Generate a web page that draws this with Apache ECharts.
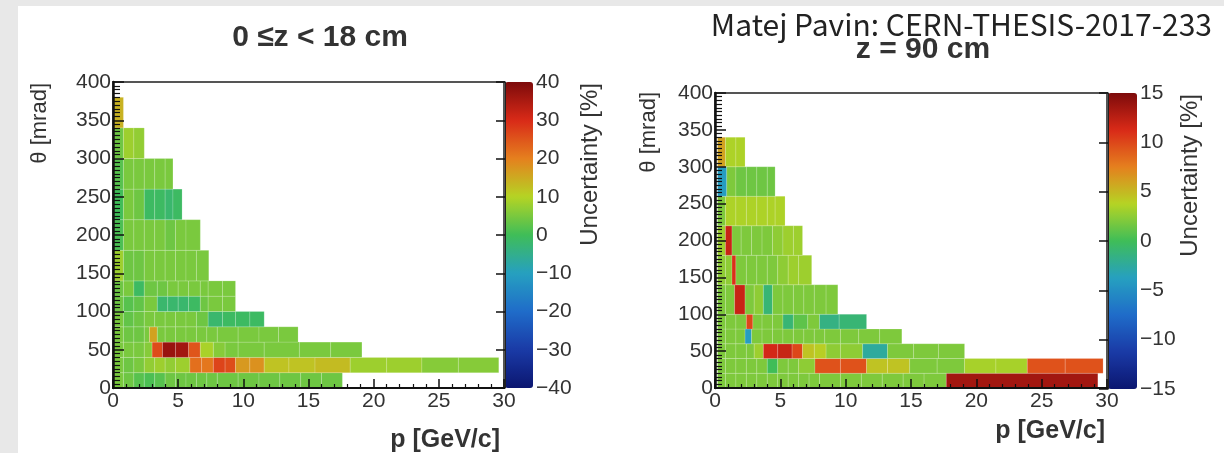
<!DOCTYPE html>
<html><head><meta charset="utf-8">
<script src="https://cdn.jsdelivr.net/npm/echarts/dist/echarts.min.js"></script>
<style>
html,body{margin:0;padding:0;background:#e8e8e8;overflow:hidden;}
#panel{position:absolute;left:18px;top:6px;width:1206px;height:447px;background:#fff;}
#c{position:absolute;left:0;top:0;width:1224px;height:453px;}
</style>
</head><body><div id="panel"></div><div id="c"></div>
<script>
// ---------- data (left panel: 0 <= z < 18 cm) ----------
const thetaRows1 = [[0,20],[20,40],[40,60],[60,80],[80,100],[100,120],[120,140],[140,180],[180,220],[220,260],[260,300],[300,340],[340,380]];
const pEdges1 = [
  [0,0.8,1.6,2.4,3.2,4.0,4.8,5.6,6.4,7.2,8.0,9.6,11.2,12.8,14.4,16.0,17.6],
  [0,0.8,1.6,2.4,3.2,4.0,4.8,5.9,6.8,7.7,8.6,9.4,10.5,11.6,13.5,15.5,18.2,21,23.7,26.5,29.6],
  [0,0.8,1.6,2.4,3.0,3.8,4.8,5.8,6.7,7.7,8.6,9.6,11.6,14.3,16.7,19.1],
  [0,0.8,1.6,2.4,2.8,3.4,4.0,4.8,5.6,6.4,7.2,8.0,9.6,11.2,12.7,14.2],
  [0,0.8,1.6,2.4,3.2,4.0,4.8,5.6,6.4,7.3,8.4,9.4,10.5,11.6],
  [0,0.8,1.6,2.4,3.4,4.2,5.0,5.8,6.7,7.3,8.4,9.4],
  [0,0.8,1.6,2.4,3.4,4.2,5.0,5.8,6.7,7.3,8.4,9.4],
  [0,0.8,1.6,2.4,3.2,4.0,4.8,5.6,6.4,7.35],
  [0,0.8,1.6,2.4,3.2,4.0,4.8,5.6,6.7],
  [0,0.8,1.6,2.4,3.2,4.0,4.6,5.3],
  [0,0.8,1.6,2.4,3.2,4.0,4.6],
  [0,0.8,1.6,2.4],
  [0,0.8]
];
const values1 = [
  [5,4,2,1,2,4,4,4,4,4,4,4,4,4,4,4],
  [5,4,5,7,8,7,8,22,21,27,26,17,18,12,12,13,8,8,6,6],
  [5,5,5,6,26,37,36,25,9,6,5,5,5,5,5],
  [5,4,4,5,16,5,5,5,5,5,5,5,5,5,5],
  [5,3,4,5,5,5,5,5,4,-2,-1,-1,-1],
  [4,2,3,5,-2,-2,-2,-1,4,5,5],
  [4,5,-1,4,4,5,5,5,5,5,5],
  [8,4,4,5,5,5,5,5,5],
  [1,5,5,5,5,4,5,5],
  [0,5,4,-1,-1,-2,-1],
  [2,5,5,5,5,5],
  [4,8,7],
  [14]
];
const colorTicks1 = [-40,-30,-20,-10,0,10,20,30,40];

// ---------- data (right panel: z = 90 cm) ----------
const thetaRows2 = [[0,20],[20,40],[40,60],[60,80],[80,100],[100,140],[140,180],[180,220],[220,260],[260,300],[300,340]];
const pEdges2 = [
  [0.2,0.8,1.6,2.4,3.2,4.0,4.8,5.6,6.4,7.2,8.0,9.6,11.2,12.8,14.4,16.0,17.7,29.3],
  [0.2,0.8,1.6,2.4,3.2,4.0,4.8,5.6,6.4,7.65,9.6,11.6,13.2,14.9,17.0,19.1,21.5,23.9,26.8,29.7],
  [0.2,0.8,1.6,2.4,3.0,3.7,4.8,5.9,6.7,7.6,8.5,9.6,11.3,13.2,15.2,17.1,19.1],
  [0.2,0.8,1.6,2.3,2.8,3.6,4.4,5.2,6.0,6.8,7.6,8.4,9.6,11.0,12.6,14.3],
  [0.2,0.8,1.6,2.4,2.9,3.6,4.4,5.2,6.0,7.1,8.0,9.5,11.6],
  [0.2,0.8,1.5,2.3,3.0,3.7,4.4,5.2,6.0,6.8,7.6,8.5,9.4],
  [0.2,0.8,1.3,1.6,2.4,3.2,4.0,4.8,5.6,6.4,7.4],
  [0.2,0.8,1.3,2.0,2.8,3.6,4.4,5.2,6.0,6.7],
  [0.2,0.8,1.6,2.4,3.2,4.0,4.6,5.36],
  [0.2,0.9,1.6,2.4,3.2,4.0,4.6],
  [0.2,0.8,1.6,2.3]
];
const values2 = [
  [2,2,2,2,2,2,2,2,2,2,2,2,2,2,2,2,13.5],
  [2,2,2,2,2,0,2,2,2.5,9.5,9.5,4.5,4.5,2,2,3.3,3.3,9.5,9.5],
  [2,2,2,2,3,11.5,12,10,4.5,4,2.5,2.5,-2.5,2,2,2],
  [2,2,2,-4,2,2,2,2,2,2,2,2,2,2,2],
  [2,2,2,10,2,2,2,-1,1,2,-1.5,-1],
  [2,2,12,2,2.5,-1,2,2,2,2,2,2],
  [2.5,2.5,11,2,2,2,2,2.5,3,3],
  [3,12,2,2,2,2,2.5,3,3],
  [2,3.5,3.5,3.5,3.5,3.5,3.5],
  [-4,2,1.5,1.5,1.5,1.5],
  [6,3.5,3.5]
];
const colorTicks2 = [-15,-10,-5,0,5,10,15];

const pTicks = [0,5,10,15,20,25,30];
const thetaTicks = [0,50,100,150,200,250,300,350,400];

const PALETTE = ['#0b1670','#1a3aa6','#1f6cc9','#26a0c0','#3fbd58','#b5d424','#e5801e','#d92a18','#7d0b0b'];

function buildCells(rows, edges, vals){
  const out = [];
  rows.forEach((r, i) => {
    const e = edges[i];
    for (let k = 0; k < e.length - 1; k++) out.push([e[k], e[k+1], r[0], r[1], vals[i][k]]);
  });
  return out;
}
const cells1 = buildCells(thetaRows1, pEdges1, values1);
const cells2 = buildCells(thetaRows2, pEdges2, values2);

const FONT = 'Liberation Sans';
const TXT = '#333';

function renderCell(params, api){
  const a = api.coord([api.value(0), api.value(3)]);
  const b = api.coord([api.value(1), api.value(2)]);
  return {type:'rect', shape:{x:a[0], y:a[1], width:b[0]-a[0], height:b[1]-a[1]},
    style:{fill:api.visual('color'), stroke:'rgba(255,255,255,0.16)', lineWidth:1}};
}

function pAxis(gi){
  return {type:'value', gridIndex:gi, z:6, min:pTicks[0], max:pTicks[pTicks.length-1], interval:pTicks[1]-pTicks[0],
    axisLine:{show:true, lineStyle:{color:'#111', width:2}},
    axisTick:{show:true, inside:true, length:9, lineStyle:{color:'#111', width:1.5}},
    minorTick:{show:true, splitNumber:5, length:4, lineStyle:{color:'#111', width:1.2}},
    axisLabel:{fontFamily:FONT, fontSize:21, color:TXT, margin:3},
    splitLine:{show:false}};
}
function tAxis(gi){
  return {type:'value', gridIndex:gi, z:6, min:thetaTicks[0], max:thetaTicks[thetaTicks.length-1], interval:thetaTicks[1]-thetaTicks[0],
    axisLine:{show:true, lineStyle:{color:'#111', width:2.5}},
    axisTick:{show:true, inside:true, length:11, lineStyle:{color:'#111', width:1.5}},
    minorTick:{show:true, splitNumber:10, length:7, lineStyle:{color:'#111', width:1.2}},
    axisLabel:{fontFamily:FONT, fontSize:21, color:TXT, margin:2},
    splitLine:{show:false}};
}
function cAxis(gi, ticks){
  return {type:'value', gridIndex:gi, z:6, position:'right', min:ticks[0], max:ticks[ticks.length-1], interval:ticks[1]-ticks[0],
    axisLine:{show:true, lineStyle:{color:'#222', width:1}},
    axisTick:{show:true, inside:true, length:9, lineStyle:{color:'#111', width:1.5}},
    axisLabel:{fontFamily:FONT, fontSize:21, color:TXT, margin:3,
      formatter: v => (v < 0 ? '\u2212' + Math.abs(v) : String(v))},
    splitLine:{show:false}};
}
function hiddenX(gi){ return {type:'value', gridIndex:gi, min:0, max:1, show:false}; }

function vText(x, y, text, size){
  return {type:'text', x:x, y:y, rotation:Math.PI/2,
    style:{text:text, font:'normal ' + size + 'px "' + FONT + '"', fill:TXT, align:'right', verticalAlign:'middle'}};
}
function hText(x, y, text, size, weight, align, family, color){
  return {type:'text', x:x, y:y,
    style:{text:text, font:(weight||'normal') + ' ' + size + 'px "' + (family||FONT) + '"', fill:color||TXT, align:align||'center', verticalAlign:'middle'}};
}

const chart = echarts.init(document.getElementById('c'), null, {renderer:'canvas'});
chart.setOption({
  backgroundColor:'transparent',
  animation:false,
  grid:[
    {left:113, top:82, width:391, height:306, show:true, borderColor:'#555', borderWidth:2},
    {left:715, top:93, width:392, height:295, show:true, borderColor:'#555', borderWidth:2},
    {left:505, top:82, width:28, height:306},
    {left:1108, top:93, width:29, height:296}
  ],
  xAxis:[pAxis(0), pAxis(1), hiddenX(2), hiddenX(3)],
  yAxis:[tAxis(0), tAxis(1), cAxis(2, colorTicks1), cAxis(3, colorTicks2)],
  visualMap:[
    {type:'continuous', seriesIndex:0, dimension:4, min:colorTicks1[0], max:colorTicks1[colorTicks1.length-1],
      inRange:{color:PALETTE}, left:505, top:82, itemWidth:28, itemHeight:306, padding:0,
      calculable:false, hoverLink:false, showLabel:false, z:1},
    {type:'continuous', seriesIndex:1, dimension:4, min:colorTicks2[0], max:colorTicks2[colorTicks2.length-1],
      inRange:{color:PALETTE}, left:1108, top:93, itemWidth:29, itemHeight:296, padding:0,
      calculable:false, hoverLink:false, showLabel:false, z:1}
  ],
  series:[
    {type:'custom', xAxisIndex:0, yAxisIndex:0, renderItem:renderCell, data:cells1, encode:{x:[0,1], y:[2,3]}, clip:true},
    {type:'custom', xAxisIndex:1, yAxisIndex:1, renderItem:renderCell, data:cells2, encode:{x:[0,1], y:[2,3]}, clip:true}
  ],
  graphic:[
    hText(320, 38, '0 \u2264z < 18 cm', 30, 'bold'),
    hText(923, 50, 'z = 90 cm', 30, 'bold'),
    hText(1212, 25, 'Matej Pavin: CERN-THESIS-2017-233', 30, 'normal', 'right', 'Noto Sans CJK JP', '#222'),
    hText(500, 440, 'p [GeV/c]', 25, 'bold', 'right'),
    hText(1105, 431, 'p [GeV/c]', 25, 'bold', 'right'),
    vText(40, 83, '\u03b8 [mrad]', 22),
    vText(649, 92, '\u03b8 [mrad]', 22),
    vText(590, 83, 'Uncertainty [%]', 24),
    vText(1190, 94, 'Uncertainty [%]', 24)
  ]
});
</script></body></html>
